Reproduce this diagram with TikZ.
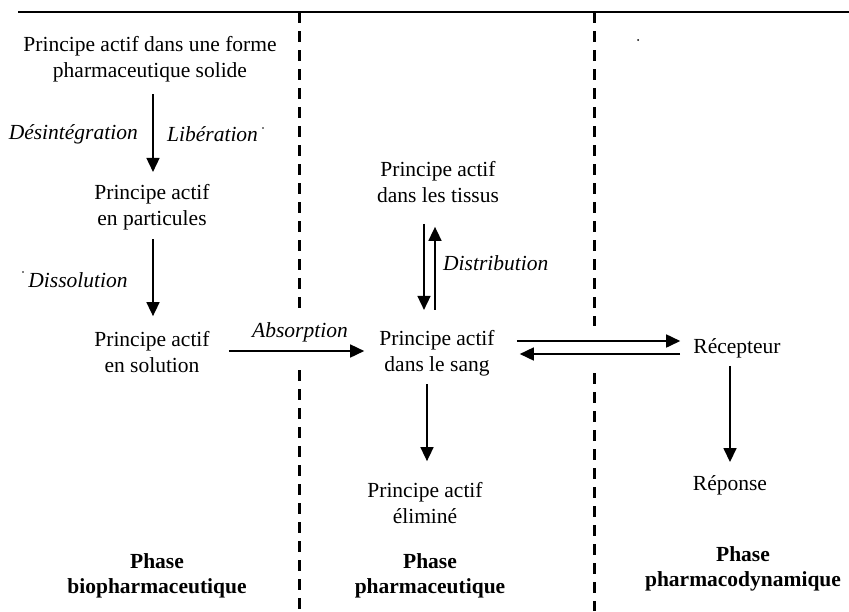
\documentclass[tikz,border=0pt]{standalone}
\usepackage{fontspec}
\setmainfont{Liberation Serif}
\usetikzlibrary{arrows.meta}
\tikzset{
  txt/.style={inner sep=0pt, align=center, font=\fontsize{21.5}{26}\selectfont},
  lbl/.style={inner sep=0pt, font=\fontsize{21.5}{26}\selectfont\itshape},
  phase/.style={inner sep=0pt, align=center, font=\fontsize{21.5}{25}\selectfont\bfseries},
  arr/.style={line width=1.6pt, -{Triangle[length=14pt,width=13pt]}},
  sep/.style={line width=3pt, dash pattern=on 11pt off 8pt},
}
\begin{document}
\begin{tikzpicture}[x=1pt,y=-1pt]
\useasboundingbox (0,0) rectangle (849,611);
% frame and phase separators
\draw[line width=2pt] (18,12) -- (849,12);
\draw[sep] (299,12) -- (299,310);
\draw[sep] (299,370) -- (299,611);
\draw[sep] (594,12) -- (594,326);
\draw[sep] (594,373) -- (594,611);
% column / row helpers
\coordinate (cA) at (153,0);
\coordinate (cDn) at (424,0);
\coordinate (cUp) at (435,0);
\coordinate (cEl) at (427,0);
\coordinate (cRp) at (730,0);
\coordinate (rAbs) at (0,351);
\coordinate (rR) at (0,341);
\coordinate (rL) at (0,354);
% nodes
\node[txt] (n1) at (150,59) {Principe actif dans une forme\\pharmaceutique solide};
\node[txt] (n2) at (152,207) {Principe actif\\en particules};
\node[txt] (n3) at (152,352) {Principe actif\\en solution};
\node[txt] (n4) at (437,353) {Principe actif\\dans le sang};
\node[txt] (n5) at (438,182) {Principe actif\\dans les tissus};
\node[txt] (n6) at (425,503) {Principe actif\\éliminé};
\node[txt] (rec) at (737,348) {Récepteur};
\node[txt] (rep) at (730,485) {Réponse};
\node[phase] (p1) at (157,576) {Phase\\biopharmaceutique};
\node[phase] (p2) at (430,576) {Phase\\pharmaceutique};
\node[phase] (p3) at (743,569) {Phase\\pharmacodynamique};
% labels
\node[lbl, anchor=east] (ldes) at (138,134) {Désintégration};
\node[lbl, anchor=west] (llib) at (167,134) {Libération};
\node[lbl] (ldis) at (78,280) {Dissolution};
\node[lbl] (labs) at (300,332) {Absorption};
\node[lbl, anchor=west] (ldist) at (443,263) {Distribution};
\fill (263,128) circle (0.9);
\fill (23,272) circle (0.9);
\fill (638,40) circle (1);
% connectors
\draw[arr, shorten <=12pt, shorten >=12pt] (n1.south -| cA) -- (n2.north -| cA);
\draw[arr, shorten <=9pt, shorten >=15pt] (n2.south -| cA) -- (n3.north -| cA);
\draw[arr, shorten <=19pt, shorten >=15pt] (n3.east |- rAbs) -- (n4.west |- rAbs);
\draw[arr, shorten <=21pt, shorten >=20pt] (n5.south -| cDn) -- (n4.north -| cDn);
\draw[arr, shorten <=20pt, shorten >=24pt] (n4.north -| cUp) -- (n5.south -| cUp);
\draw[arr, shorten <=22pt, shorten >=13pt] (n4.east |- rR) -- (rec.west |- rR);
\draw[arr, shorten <=13pt, shorten >=25pt] (rec.west |- rL) -- (n4.east |- rL);
\draw[arr, shorten <=8pt, shorten >=13pt] (rec.south -| cRp) -- (rep.north -| cRp);
\draw[arr, shorten <=8pt, shorten >=21pt] (n4.south -| cEl) -- (n6.north -| cEl);
\end{tikzpicture}
\end{document}
